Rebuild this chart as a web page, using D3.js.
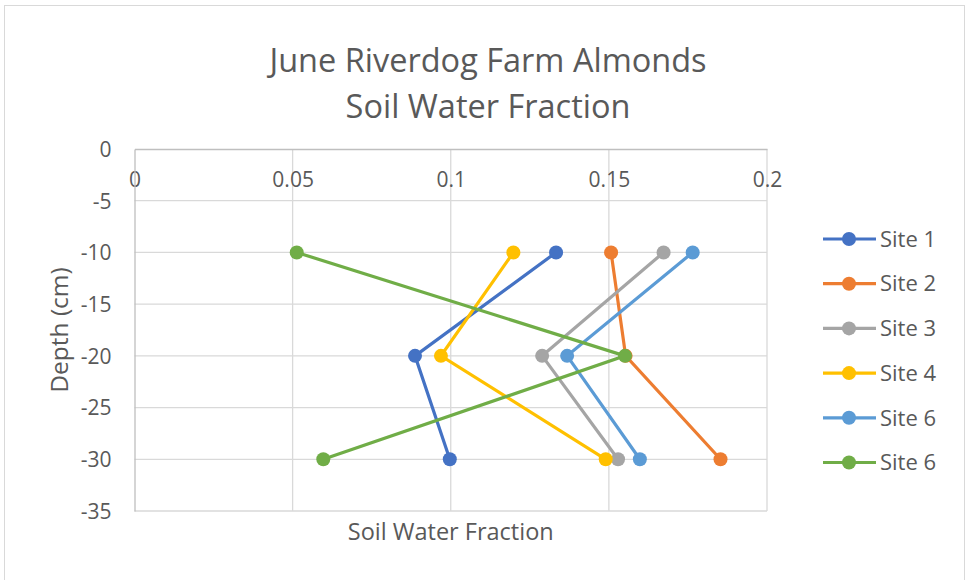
<!DOCTYPE html>
<html><head><meta charset="utf-8">
<script src="https://cdn.jsdelivr.net/npm/d3@7"></script>
<style>body{margin:0;background:#fff}svg{display:block}text{font-family:"Open Sans",sans-serif;fill:#595959}</style>
</head><body><svg id="c" width="967" height="580"></svg>
<script>
const depths = [-10, -20, -30];
const seriesNames = ["Site 1", "Site 2", "Site 3", "Site 4", "Site 6", "Site 6"];
const site1 = [0.1333, 0.0887, 0.0997];
const site2 = [0.1507, 0.1553, 0.1853];
const site3 = [0.1673, 0.1289, 0.1529];
const site4 = [0.1198, 0.0969, 0.1490];
const site6a = [0.1765, 0.1368, 0.1598];
const site6b = [0.0513, 0.1551, 0.0597];
const colors = ["#4472C4", "#ED7D31", "#A5A5A5", "#FFC000", "#5B9BD5", "#70AD47"];
const xTicks = [0, 0.05, 0.1, 0.15, 0.2];
const yTicks = [0, -5, -10, -15, -20, -25, -30, -35];
const titleLines = ["June Riverdog Farm Almonds", "Soil Water Fraction"];

const series = [site1, site2, site3, site4, site6a, site6b].map((v, i) => ({
  name: seriesNames[i], color: colors[i], pts: v.map((x, j) => ({x, y: depths[j]}))
}));

const svg = d3.select("#c");
svg.append("rect").attr("x", 4.5).attr("y", 5.5).attr("width", 960).attr("height", 590)
  .attr("fill", "#fff").attr("stroke", "#D9D9D9").attr("stroke-width", 1);

const x = d3.scaleLinear().domain([0, 0.2]).range([134.5, 767]);
const y = d3.scaleLinear().domain([0, -35]).range([149, 511]);

// gridlines
const g = svg.append("g");
g.selectAll(".vg").data(xTicks.slice(1)).join("line")
  .attr("x1", d => x(d)).attr("x2", d => x(d)).attr("y1", y(0)).attr("y2", y(-35))
  .attr("stroke", "#D9D9D9").attr("stroke-width", 1.3);
g.selectAll(".hg").data(yTicks.slice(1)).join("line")
  .attr("x1", x(0)).attr("x2", x(0.2)).attr("y1", d => y(d)).attr("y2", d => y(d))
  .attr("stroke", "#D9D9D9").attr("stroke-width", 1.3);

// axes
const xAxis = svg.append("g").attr("transform", `translate(0,${y(0)})`)
  .call(d3.axisBottom(x).tickValues(xTicks).tickSize(0).tickPadding(23).tickFormat(d => String(d)));
const yAxis = svg.append("g").attr("transform", `translate(${x(0)},0)`)
  .call(d3.axisLeft(y).tickValues(yTicks).tickSize(0).tickPadding(23).tickFormat(d => String(d)));
[xAxis, yAxis].forEach(a => {
  a.select(".domain").attr("stroke", "#BFBFBF").attr("stroke-width", 1.3);
  a.selectAll("text").style("font-size", "21px").attr("fill", "#595959").style("font-family", '"Open Sans",sans-serif');
});
yAxis.selectAll("text").attr("dy", "0.35em");

// lines
const line = d3.line().x(d => x(d.x)).y(d => y(d.y));
series.forEach(s => {
  svg.append("path").attr("d", line(s.pts)).attr("fill", "none")
    .attr("stroke", s.color).attr("stroke-width", 3.2).attr("stroke-linecap", "round");
  svg.selectAll(null).data(s.pts).join("circle")
    .attr("cx", d => x(d.x)).attr("cy", d => y(d.y)).attr("r", 7).attr("fill", s.color);
});

// title
svg.append("text").attr("x", 488).attr("y", 0).attr("text-anchor", "middle")
  .style("font-size", "32.5px")
  .selectAll("tspan").data(titleLines).join("tspan")
  .attr("x", 488).attr("y", (d, i) => 72 + i * 45.5).text(d => d);

// axis titles
svg.append("text").attr("x", x(0.1)).attr("y", 540).attr("text-anchor", "middle")
  .style("font-size", "23.5px").text("Soil Water Fraction");
svg.append("text").attr("transform", "translate(68,330) rotate(-90)").attr("text-anchor", "middle")
  .style("font-size", "24.5px").text("Depth (cm)");

// legend
const lg = svg.append("g");
series.forEach((s, i) => {
  const yy = 239 + i * 44.7;
  lg.append("line").attr("x1", 823).attr("x2", 876).attr("y1", yy).attr("y2", yy)
    .attr("stroke", s.color).attr("stroke-width", 3.2);
  lg.append("circle").attr("cx", 849).attr("cy", yy).attr("r", 7).attr("fill", s.color);
  lg.append("text").attr("x", 880).attr("y", yy).attr("dy", "0.35em")
    .style("font-size", "22px").text(s.name);
});
</script></body></html>
